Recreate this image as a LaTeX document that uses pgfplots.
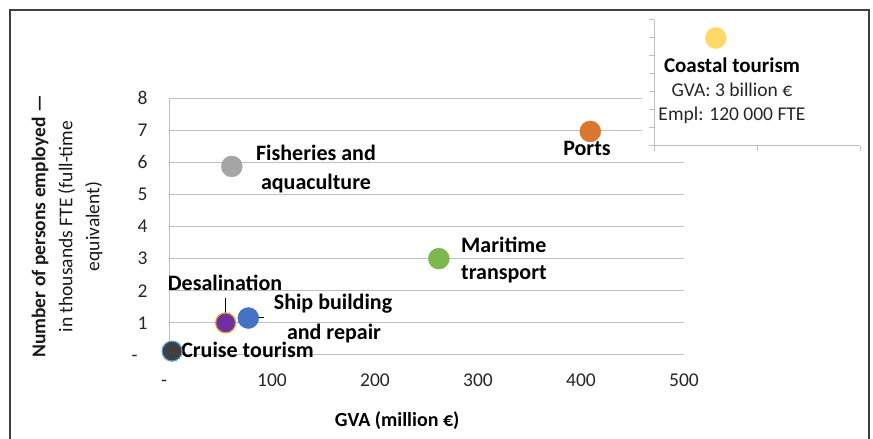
\documentclass[border=0pt]{standalone}
\usepackage{pgfplots}
\pgfplotsset{compat=1.18}
\usepackage{fontspec}
\setmainfont{Carlito}
\definecolor{gridc}{HTML}{BFBFBF}
\definecolor{fishc}{HTML}{A5A5A5}
\definecolor{portc}{HTML}{D9772F}
\definecolor{marc}{HTML}{7CB84E}
\definecolor{shipc}{HTML}{4472C4}
\definecolor{desc}{HTML}{7030A0}
\definecolor{desedge}{HTML}{E0A030}
\definecolor{cruc}{HTML}{404040}
\definecolor{cruedge}{HTML}{5B9BD5}
\definecolor{coac}{HTML}{FFD966}
\definecolor{framec}{HTML}{404040}
\newcommand{\lab}{\fontsize{22}{26}\selectfont\bfseries}
\begin{document}
\begin{tikzpicture}[x=1pt,y=1pt]
\path[use as bounding box] (0,0) rectangle (873,439);
\begin{axis}[
  at={(169pt,84pt)}, anchor=south west,
  scale only axis, width=515pt, height=257pt,
  xmin=0, xmax=500, ymin=0, ymax=8,
  axis x line*=bottom, axis y line*=left,
  x axis line style={draw=none},
  y axis line style={gridc, line width=1pt},
  xtick={0,100,...,500}, xticklabels={-\phantom{0},100,200,300,400,500},
  ytick={0,1,...,8}, yticklabels={-\phantom{0},1,2,3,4,5,6,7,8},
  tick style={draw=none},
  /pgf/number format/assume math mode=true,
  tick label style={font=\fontsize{19.5}{23}\selectfont, text=black!85},
  xticklabel style={yshift=-15pt},
  yticklabel style={xshift=-18pt},
  ymajorgrids, grid style={gridc, line width=1pt},
  clip=false,
  ylabel={\textbf{Number of persons employed —}\\in thousands FTE (full-time\\equivalent)},
  ylabel style={at={(axis description cs:-0.198,0.5)}, anchor=center, align=center, font=\fontsize{19.5}{27}\selectfont, text=black!90},
]
\addplot[only marks, mark=*, mark size=10.5pt, mark options={fill=fishc, draw=fishc}] coordinates {(61,5.87)};
\addplot[only marks, mark=*, mark size=10.5pt, mark options={fill=portc, draw=portc}] coordinates {(409,6.96)};
\addplot[only marks, mark=*, mark size=10.5pt, mark options={fill=marc, draw=marc}] coordinates {(262,3.0)};
\addplot[only marks, mark=*, mark size=10.5pt, mark options={fill=shipc, draw=shipc}] coordinates {(77,1.15)};
\addplot[only marks, mark=*, mark size=10pt, mark options={fill=desc, draw=desedge, line width=1.2pt}] coordinates {(55,1.0)};
\addplot[only marks, mark=*, mark size=10pt, mark options={fill=cruc, draw=cruedge, line width=1.2pt}] coordinates {(3,0.12)};
\draw[black, line width=0.8pt] (axis cs:55,1.77) -- (axis cs:55,1.0);
\draw[black, line width=0.8pt] (axis cs:77,1.18) -- (axis cs:92.2,1.18);
\node[font=\lab] at (axis cs:142.7,6.29) {Fisheries and};
\node[font=\lab] at (axis cs:142.7,5.35) {aquaculture};
\node[font=\lab] at (axis cs:405.8,6.44) {Ports};
\node[font=\lab, anchor=west, inner sep=0pt] at (axis cs:283.5,3.42) {Maritime};
\node[font=\lab, anchor=west, inner sep=0pt] at (axis cs:283.5,2.52) {transport};
\node[font=\lab] at (axis cs:54.4,2.24) {Desalination};
\node[font=\lab] at (axis cs:159.2,1.59) {Ship building};
\node[font=\lab] at (axis cs:160.2,0.68) {and repair};
\node[font=\lab, anchor=west, inner sep=0pt] at (axis cs:11.7,0.16) {Cruise tourism};
\node[font=\fontsize{20}{24}\selectfont\bfseries] at (axis description cs:0.443,-0.257) {GVA (million €)};
\end{axis}
\fill[white] (642,289) rectangle (867,428);
\begin{axis}[
  at={(654pt,293pt)}, anchor=south west,
  scale only axis, width=206pt, height=126pt,
  xmin=0, xmax=10000, ymin=0, ymax=140,
  axis x line*=bottom, axis y line*=left,
  axis line style={gridc, line width=1pt},
  xtick={0,5000,10000}, ytick={0,20,...,140},
  xticklabels={}, yticklabels={},
  scaled x ticks=false, scaled y ticks=false,
  tick style={gridc, line width=1pt},
  tick align=outside, major tick length=5pt,
  clip=false,
]
\addplot[only marks, mark=*, mark size=10.5pt, mark options={fill=coac, draw=coac}] coordinates {(3000,120)};
\node[font=\fontsize{21}{25}\selectfont\bfseries] at (axis cs:3786,90) {Coastal tourism};
\node[font=\fontsize{19.5}{23}\selectfont, text=black!85] at (axis cs:3786,62.2) {GVA: 3 billion €};
\node[font=\fontsize{19.5}{23}\selectfont, text=black!85] at (axis cs:3786,34.4) {Empl: 120 000 FTE};
\end{axis}
\draw[framec, line width=1.5pt] (10,0) -- (10,429) -- (869,429) -- (869,0);
\end{tikzpicture}
\end{document}
